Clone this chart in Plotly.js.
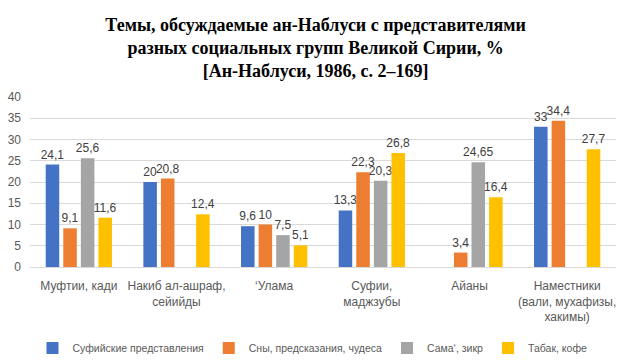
<!DOCTYPE html>
<html>
<head>
<meta charset="utf-8">
<script src="https://cdn.plot.ly/plotly-3.0.1.min.js"></script>
<style>html,body{margin:0;padding:0;background:#fff}#chart{width:625px;height:360px}</style>
</head>
<body>
<div id="chart"></div>
<script>
const categories = ["Муфтии, кади", "Накиб ал-ашраф,<br>сейийды", "‘Улама", "Суфии,<br>маджзубы", "Айаны", "Наместники<br>(вали, мухафизы,<br>хакимы)"];
const seriesNames = ["Суфийские представления", "Сны, предсказания, чудеса", "Сама‘, зикр", "Табак, кофе"];
const sufi = [24.1, 20, 9.6, 13.3, null, 33];
const dreams = [9.1, 20.8, 10, 22.3, 3.4, 34.4];
const sama = [25.6, null, 7.5, 20.3, 24.65, null];
const tobacco = [11.6, 12.4, 5.1, 26.8, 16.4, 27.7];
const colors = ["#4472C4", "#ED7D31", "#A5A5A5", "#FFC000"];
const yTicks = [0, 5, 10, 15, 20, 25, 30, 35, 40];

const font = "Liberation Sans, Arial, sans-serif";
const allSeries = [sufi, dreams, sama, tobacco];
const idx = categories.map((c, i) => i);
const traces = allSeries.map((vals, k) => ({
  type: "bar",
  name: seriesNames[k],
  x: idx,
  y: vals,
  marker: {color: colors[k]},
  text: vals.map(v => v === null ? "" : String(v).replace(".", ",")),
  textposition: "outside",
  textfont: {family: font, size: 12, color: "#404040"},
  constraintext: "none",
  cliponaxis: false,
  hoverinfo: "skip"
}));

const layout = {
  width: 625, height: 360,
  margin: {l: 30, r: 9, t: 97, b: 93},
  paper_bgcolor: "#fff", plot_bgcolor: "#fff",
  font: {family: font, size: 12, color: "#595959"},
  title: {
    text: "<b>Темы, обсуждаемые ан-Наблуси с представителями<br>разных социальных групп Великой Сирии, %<br>[Ан-Наблуси, 1986, с. 2–169]</b>",
    font: {family: "Liberation Serif, Times New Roman, serif", size: 18, color: "#000"},
    x: 0.505, xref: "container", xanchor: "center",
    y: 0.915, yref: "container", yanchor: "top"
  },
  barmode: "group",
  bargap: 0.28,
  bargroupgap: 0.23,
  xaxis: {
    tickmode: "array", tickvals: idx, ticktext: categories,
    range: [-0.5, 5.5], showgrid: false, zeroline: false,
    showline: false, ticks: "", ticklabelstandoff: 10,
    tickfont: {family: font, size: 12, color: "#595959"}
  },
  yaxis: {
    range: [0, 40], tickmode: "array", tickvals: yTicks,
    showgrid: true, gridcolor: "#D9D9D9", gridwidth: 1,
    zeroline: true, zerolinecolor: "#D9D9D9", zerolinewidth: 1,
    showline: false, ticks: "", ticklabelstandoff: 8,
    tickfont: {family: font, size: 12, color: "#595959"}
  },
  showlegend: true,
  legend: {
    orientation: "h", x: 0.5, xanchor: "center", xref: "container",
    y: 0.033, yanchor: "middle", yref: "container",
    itemwidth: 30, font: {family: font, size: 10.5, color: "#595959"},
    traceorder: "normal"
  }
};

Plotly.newPlot("chart", traces, layout, {displayModeBar: false, staticPlot: true});
</script>
</body>
</html>
